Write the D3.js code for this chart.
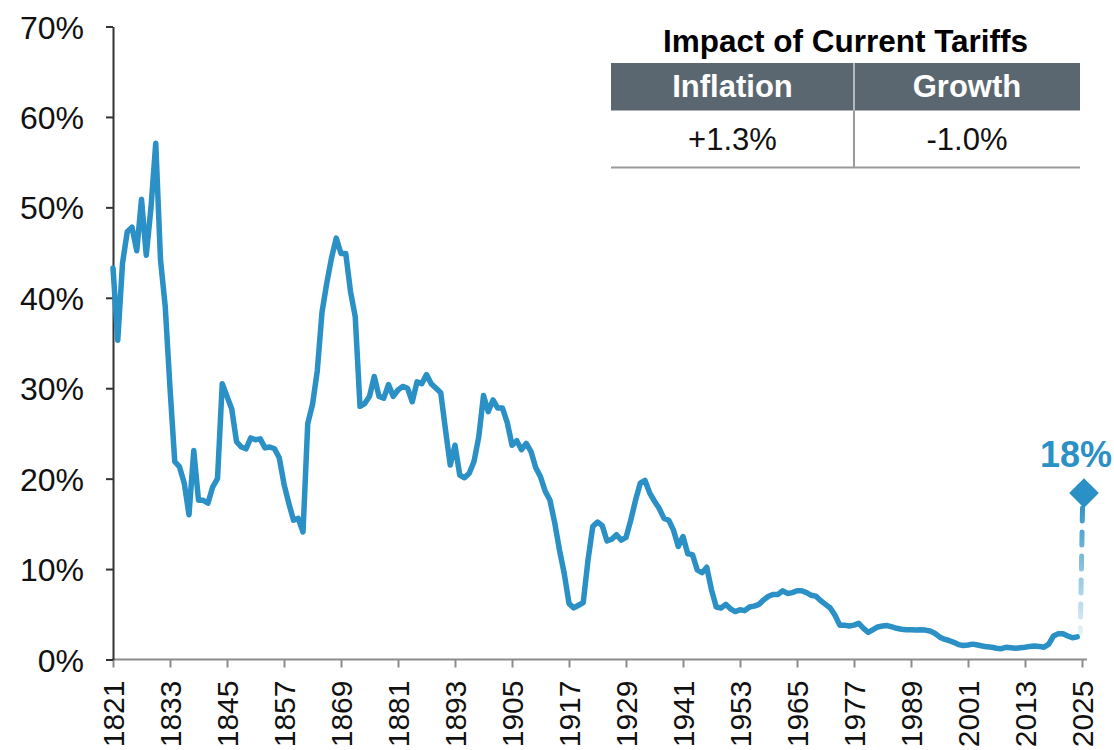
<!DOCTYPE html>
<html>
<head>
<meta charset="utf-8">
<script src="https://cdn.jsdelivr.net/npm/d3@7"></script>
<style>
	html, body { margin: 0; padding: 0; background: #fff; }
	svg { display: block; font-family: "Liberation Sans", Arial, Helvetica, sans-serif; }
</style>
</head>
<body>
<div id="chart"></div>
<script>

// average US tariff rate, one value per year starting in 1821
const FIRST_YEAR = 1821;
const tariffRates = [
	43.3, 35.3, 43.8, 47.3, 47.8, 45.2, 50.9, 44.7, 50.0, 57.1, // 1821-1830
	44.2, 39.0, 30.0, 21.9, 21.3, 19.5, 16.0, 23.1, 17.6, 17.6, // 1831-1840
	17.3, 19.1, 20.0, 30.5, 29.1, 27.7, 24.1, 23.5, 23.3, 24.5, // 1841-1850
	24.3, 24.4, 23.4, 23.5, 23.3, 22.3, 19.4, 17.3, 15.4, 15.6, // 1851-1860
	14.1, 26.1, 28.2, 31.9, 38.4, 41.6, 44.4, 46.6, 44.9, 44.9, // 1861-1870
	40.7, 37.9, 28.0, 28.3, 29.1, 31.3, 29.1, 28.9, 30.4, 29.1, // 1871-1880
	29.8, 30.2, 30.0, 28.5, 30.7, 30.5, 31.5, 30.5, 30.0, 29.5, // 1881-1890
	25.4, 21.5, 23.7, 20.4, 20.1, 20.6, 21.9, 24.6, 29.2, 27.4, // 1891-1900
	28.7, 27.8, 27.8, 26.2, 23.7, 24.2, 23.2, 23.9, 23.0, 21.2, // 1901-1910
	20.2, 18.6, 17.6, 15.1, 12.1, 9.5, 6.2, 5.7, 6.0, 6.3,      // 1911-1920
	11.0, 14.7, 15.2, 14.8, 13.1, 13.3, 13.8, 13.2, 13.5, 15.4, // 1921-1930
	17.6, 19.5, 19.8, 18.4, 17.5, 16.7, 15.6, 15.4, 14.3, 12.5, // 1931-1940
	13.6, 11.7, 11.6, 9.9, 9.6, 10.2, 7.7, 5.8, 5.7, 6.1,       // 1941-1950
	5.6, 5.3, 5.5, 5.4, 5.8, 5.9, 6.1, 6.6, 7.0, 7.2,           // 1951-1960
	7.2, 7.6, 7.3, 7.4, 7.6, 7.6, 7.4, 7.1, 7.0, 6.5,           // 1961-1970
	6.1, 5.7, 4.9, 3.8, 3.8, 3.7, 3.8, 4.0, 3.45, 3.0,          // 1971-1980
	3.3, 3.6, 3.7, 3.75, 3.6, 3.45, 3.35, 3.3, 3.3, 3.25,       // 1981-1990
	3.3, 3.25, 3.15, 2.9, 2.5, 2.25, 2.1, 1.9, 1.65, 1.55,      // 1991-2000
	1.6, 1.7, 1.6, 1.5, 1.4, 1.35, 1.25, 1.2, 1.35, 1.3,        // 2001-2010
	1.25, 1.3, 1.35, 1.45, 1.5, 1.45, 1.35, 1.7, 2.6, 2.85,     // 2011-2020
	2.85, 2.6, 2.4, 2.5                                         // 2021-2024
];

const projectedYear = 2025;
const projectedRate = 18.4;
const projectedLabel = "18%";

const xTickYears = [1821, 1833, 1845, 1857, 1869, 1881, 1893, 1905, 1917, 1929, 1941, 1953, 1965, 1977, 1989, 2001, 2013, 2025];
const yTickValues = [0, 10, 20, 30, 40, 50, 60, 70];

const tableTitle = "Impact of Current Tariffs";
const tableHeaders = ["Inflation", "Growth"];
const tableValues = ["+1.3%", "-1.0%"];

const WIDTH = 1114;
const HEIGHT = 750;
const LINE_COLOR = "#2a90c5";
const AXIS_DARK = "#333";
const AXIS_GRAY = "#8c8c8c";
const HEADER_FILL = "#5b6770";

class TariffChart {

	constructor (container) {

		this.margin = { top: 26.5, right: 32, bottom: 90.5, left: 113 };
		this.width = WIDTH - this.margin.left - this.margin.right;
		this.height = HEIGHT - this.margin.top - this.margin.bottom;

		this.data = tariffRates.map((v, i) => ({ year: FIRST_YEAR + i, value: v }));

		this.scales = {
			x: d3.scaleLinear().domain([FIRST_YEAR, projectedYear]).range([0, this.width]),
			y: d3.scaleLinear().domain([0, 70]).range([this.height, 0])
		};

		this.root = d3.select(container).append("svg")
			.attr("width", WIDTH)
			.attr("height", HEIGHT);

		this.svg = this.root.append("g")
			.attr("transform", "translate(" + this.margin.left + "," + this.margin.top + ")");

		this.draw();
		this.drawTable();
	}

	draw () {

		const x = this.scales.x;
		const y = this.scales.y;

		// x axis, gray, labels turned vertical
		const axisX = this.svg.append("g")
			.attr("class", "axis axis-x")
			.attr("transform", "translate(0," + this.height + ")")
			.call(d3.axisBottom(x)
				.tickValues(xTickYears)
				.tickSize(8)
				.tickSizeOuter(0)
				.tickFormat(d => d));

		axisX.select(".domain").remove();
		axisX.append("line")
			.attr("x1", x(FIRST_YEAR) - 1)
			.attr("x2", x(projectedYear) + 5)
			.attr("stroke", AXIS_GRAY)
			.attr("stroke-width", 2);
		axisX.selectAll(".tick line")
			.attr("stroke", AXIS_GRAY)
			.attr("stroke-width", 2);
		axisX.selectAll(".tick text")
			.attr("transform", "rotate(-90)")
			.attr("text-anchor", "end")
			.attr("x", -21)
			.attr("y", 0)
			.attr("dy", "0.36em")
			.attr("fill", "#111")
			.style("font-size", "30px");

		// y axis, dark
		const axisY = this.svg.append("g")
			.attr("class", "axis axis-y")
			.call(d3.axisLeft(y)
				.tickValues(yTickValues)
				.tickSize(7)
				.tickSizeOuter(0)
				.tickPadding(22)
				.tickFormat(d => d + "%"));

		axisY.select(".domain")
			.attr("stroke", AXIS_DARK)
			.attr("stroke-width", 2);
		axisY.selectAll(".tick line")
			.attr("stroke", AXIS_DARK)
			.attr("stroke-width", 2);
		axisY.selectAll(".tick text")
			.attr("fill", "#111")
			.attr("dy", "0.36em")
			.style("font-size", "32px");

		// historical series
		const line = d3.line()
			.x(d => x(d.year))
			.y(d => y(d.value));

		this.svg.append("path")
			.datum(this.data)
			.attr("fill", "none")
			.attr("stroke", LINE_COLOR)
			.attr("stroke-width", 5.5)
			.attr("stroke-linejoin", "round")
			.attr("stroke-linecap", "round")
			.attr("d", line);

		// dashed jump to the projected rate, fading towards the bottom
		const last = this.data[this.data.length - 1];
		const topY = y(projectedRate) + 15;
		const bottomY = y(last.value) - 4;

		const grad = this.root.append("defs").append("linearGradient")
			.attr("id", "fade")
			.attr("gradientUnits", "userSpaceOnUse")
			.attr("x1", 0).attr("x2", 0)
			.attr("y1", topY).attr("y2", bottomY);
		grad.append("stop").attr("offset", "0%").attr("stop-color", LINE_COLOR).attr("stop-opacity", 0.95);
		grad.append("stop").attr("offset", "100%").attr("stop-color", LINE_COLOR).attr("stop-opacity", 0.12);

		this.svg.append("line")
			.attr("x1", x(projectedYear) + 0.5)
			.attr("x2", x(last.year) + 3)
			.attr("y1", topY)
			.attr("y2", bottomY)
			.attr("stroke", "url(#fade)")
			.attr("stroke-width", 5)
			.attr("stroke-linecap", "round")
			.attr("stroke-dasharray", "13 11");

		this.svg.append("path")
			.attr("transform", "translate(" + (x(projectedYear) + 2) + "," + y(projectedRate) + ") rotate(45)")
			.attr("fill", LINE_COLOR)
			.attr("d", d3.symbol().type(d3.symbolSquare).size(440)());

		this.svg.append("text")
			.attr("x", x(projectedYear) - 6)
			.attr("y", y(projectedRate) - 26)
			.attr("text-anchor", "middle")
			.attr("fill", LINE_COLOR)
			.attr("font-weight", "bold")
			.style("font-size", "36px")
			.text(projectedLabel);
	}

	drawTable () {

		const left = 611;
		const right = 1080;
		const mid = 854;
		const headTop = 63;
		const headBottom = 110.5;
		const rowBottom = 167.5;
		const centers = [(left + mid) / 2, (mid + right) / 2];

		const table = this.root.append("g").attr("class", "table");

		table.append("text")
			.attr("x", (left + right) / 2)
			.attr("y", 52)
			.attr("text-anchor", "middle")
			.attr("font-weight", "bold")
			.attr("fill", "#000")
			.style("font-size", "31.5px")
			.text(tableTitle);

		table.append("rect")
			.attr("x", left)
			.attr("y", headTop)
			.attr("width", right - left)
			.attr("height", headBottom - headTop)
			.attr("fill", HEADER_FILL);

		table.append("line")
			.attr("x1", mid).attr("x2", mid)
			.attr("y1", headTop).attr("y2", headBottom)
			.attr("stroke", "#d0d4d7")
			.attr("stroke-width", 1.5);

		table.append("line")
			.attr("x1", mid).attr("x2", mid)
			.attr("y1", headBottom).attr("y2", rowBottom)
			.attr("stroke", "#9a9a9a")
			.attr("stroke-width", 2);

		table.append("line")
			.attr("x1", left).attr("x2", right)
			.attr("y1", rowBottom).attr("y2", rowBottom)
			.attr("stroke", "#9a9a9a")
			.attr("stroke-width", 2);

		table.selectAll(".head")
			.data(tableHeaders)
			.enter()
			.append("text")
			.attr("class", "head")
			.attr("x", (d, i) => centers[i])
			.attr("y", 97)
			.attr("text-anchor", "middle")
			.attr("font-weight", "bold")
			.attr("fill", "#fff")
			.style("font-size", "31px")
			.text(d => d);

		table.selectAll(".val")
			.data(tableValues)
			.enter()
			.append("text")
			.attr("class", "val")
			.attr("x", (d, i) => centers[i])
			.attr("y", 150)
			.attr("text-anchor", "middle")
			.attr("fill", "#111")
			.style("font-size", "31px")
			.text(d => d);
	}
}

new TariffChart(document.getElementById("chart"));

</script>
</body>
</html>
